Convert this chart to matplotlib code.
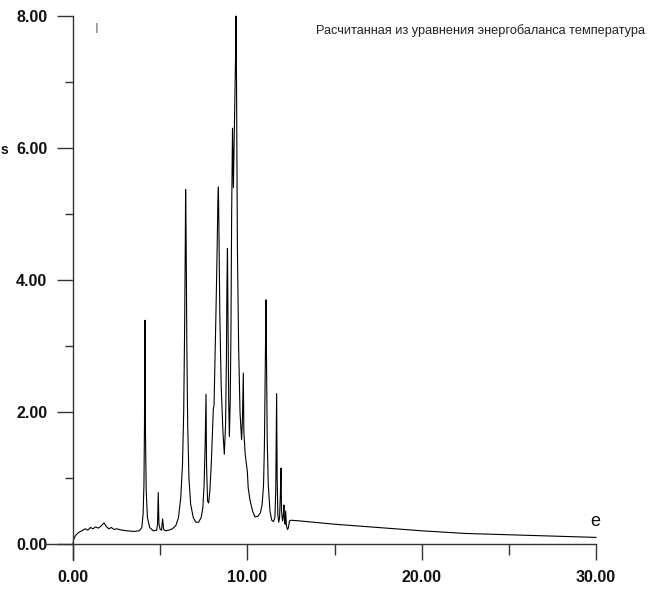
import matplotlib
matplotlib.use("Agg")
import matplotlib.pyplot as plt
from matplotlib.ticker import FormatStrFormatter

plt.rcParams['font.family'] = ['Liberation Sans', 'DejaVu Sans']

# curve (x, y)
curve_x = [0, 0.05, 0.15, 0.3, 0.5, 0.7, 0.85, 1.0, 1.15, 1.3, 1.45, 1.6, 1.78, 1.9, 2.05, 2.2, 2.35, 2.5, 2.8, 3.1, 3.5, 3.8, 3.95,
           4.02, 4.07, 4.10, 4.13, 4.16, 4.20, 4.27, 4.4, 4.6, 4.8,
           4.85, 4.89, 4.93, 5.0, 5.08, 5.14, 5.2, 5.3, 5.5, 5.7, 5.9, 6.05, 6.18, 6.28, 6.35, 6.40, 6.44, 6.46, 6.49, 6.53, 6.58, 6.65, 6.75, 6.9, 7.05, 7.2,
           7.35, 7.45, 7.52, 7.58, 7.63, 7.66, 7.72, 7.78, 7.85, 7.93, 8.0, 8.05, 8.09, 8.13, 8.2, 8.27, 8.31, 8.34, 8.37, 8.42, 8.5, 8.6, 8.68,
           8.75, 8.80, 8.83, 8.86, 8.89, 8.93, 8.97, 9.02, 9.06, 9.10, 9.15, 9.2, 9.27, 9.32, 9.35, 9.38, 9.43, 9.5, 9.58, 9.67, 9.72, 9.77, 9.8,
           9.88, 9.95, 10.0, 10.05, 10.15, 10.3, 10.44, 10.6, 10.75, 10.85, 10.93, 10.98, 11.02, 11.05, 11.07, 11.10, 11.14, 11.2, 11.3, 11.4,
           11.5, 11.58, 11.63, 11.66, 11.68, 11.71, 11.75, 11.8, 11.85, 11.9, 11.93, 11.96, 12.02, 12.07, 12.1, 12.13, 12.17, 12.2, 12.24,
           12.3, 12.35, 12.42, 12.5, 13, 15, 17.5, 20, 22.5, 25, 27.5, 30]
curve_y = [0, 0.08, 0.13, 0.17, 0.2, 0.23, 0.21, 0.25, 0.23, 0.26, 0.24, 0.27, 0.32, 0.27, 0.23, 0.25, 0.22, 0.23, 0.21, 0.2, 0.19, 0.2, 0.25,
           0.45, 0.9, 1.8, 3.39, 1.6, 0.8, 0.4, 0.25, 0.2, 0.21,
           0.3, 0.78, 0.3, 0.22, 0.21, 0.38, 0.22, 0.2, 0.21, 0.23, 0.28, 0.4, 0.7, 1.2, 2.0, 3.2, 4.5, 5.37, 4.6, 3.0, 1.8, 1.0, 0.6, 0.4, 0.33, 0.33,
           0.4, 0.55, 0.9, 1.5, 2.27, 1.2, 0.65, 0.62, 0.8, 1.2, 1.7, 2.05, 2.1, 2.6, 3.5, 4.5, 5.2, 5.41, 4.8, 3.5, 2.4, 1.7, 1.36,
           1.8, 2.8, 3.9, 4.48, 3.4, 2.2, 1.63, 2.2, 3.2, 5.0, 6.3, 5.4, 6.5, 7.3, 8.0, 7.0, 4.5, 3.0, 2.0, 1.58, 1.9, 2.59, 1.7,
           1.35, 1.2, 1.1, 0.85, 0.67, 0.5, 0.41, 0.42, 0.47, 0.6, 0.9, 1.5, 2.4, 3.2, 3.7, 2.8, 1.6, 0.9, 0.5, 0.36,
           0.34, 0.4, 0.8, 1.6, 2.28, 1.0, 0.45, 0.33, 0.4, 0.8, 1.15, 0.5, 0.35, 0.45, 0.59, 0.35, 0.3, 0.5, 0.28,
           0.22, 0.24, 0.35, 0.36, 0.35, 0.3, 0.25, 0.2, 0.16, 0.14, 0.12, 0.1]

x_major = [0, 10, 20, 30]
x_minor = [5, 15, 25]
y_major = [0, 2, 4, 6, 8]
y_minor = [1, 3, 5, 7]
title_text = "Расчитанная из уравнения энергобаланса температура"

W, H = 660, 590
fig = plt.figure(figsize=(W / 100, H / 100), dpi=100)
# pixel mapping: x=0 -> px 73, x=30 -> px 596; y=0 -> py 544, y=8 -> py 16
sx = (596 - 73) / 30.0
sy = (544 - 16) / 8.0
ax_l, ax_r, ax_t, ax_b = 40, 602, 10, 566
ax = fig.add_axes([ax_l / W, (H - ax_b) / H, (ax_r - ax_l) / W, (ax_b - ax_t) / H])
ax.set_xlim((ax_l - 73) / sx, (ax_r - 73) / sx)
ax.set_ylim((544 - ax_b) / sy, (544 - ax_t) / sy)

ax.plot(curve_x, curve_y, color='black', lw=0.8)

for s in ['top', 'right']:
    ax.spines[s].set_visible(False)
ax.spines['left'].set_position(('data', 0))
ax.spines['bottom'].set_position(('data', 0))
ax.spines['left'].set_bounds((544 - 560) / sy, 8)
ax.spines['bottom'].set_bounds((45 - 73) / sx, 30)
for s in ['left', 'bottom']:
    ax.spines[s].set_color('#333333')
    ax.spines[s].set_linewidth(1.0)

ax.set_xticks(x_major)
ax.set_xticks(x_minor, minor=True)
ax.set_yticks(y_major)
ax.set_yticks(y_minor, minor=True)
ax.xaxis.set_major_formatter(FormatStrFormatter('%.2f'))
ax.yaxis.set_major_formatter(FormatStrFormatter('%.2f'))
ax.tick_params(axis='both', which='major', direction='out', length=11.5, width=1.0, color='#333333',
               labelsize=11.5, pad=7)
ax.tick_params(axis='y', which='minor', direction='out', length=6, width=1.0, color='#333333')
ax.tick_params(axis='x', which='minor', direction='out', length=8, width=1.0, color='#333333')
ax.tick_params(axis='x', which='major', pad=7)
for lab in ax.get_xticklabels() + ax.get_yticklabels():
    lab.set_fontweight('bold')
    lab.set_color('#111111')

fig.text(316 / W, (H - 31) / H, title_text, fontsize=9.2, color='#222222', ha='left', va='center')
fig.text(97 / W, (H - 29) / H, 'I', fontsize=10, color='#777777', ha='center', va='center')
fig.text(595 / W, (H - 521) / H, 'e', fontsize=13, color='#111111', ha='center', va='center')
fig.text(0.5 / W, (H - 150) / H, 's', fontsize=10, fontweight='bold', color='#111111', ha='left', va='center')

fig.savefig('out.png', dpi=100)
